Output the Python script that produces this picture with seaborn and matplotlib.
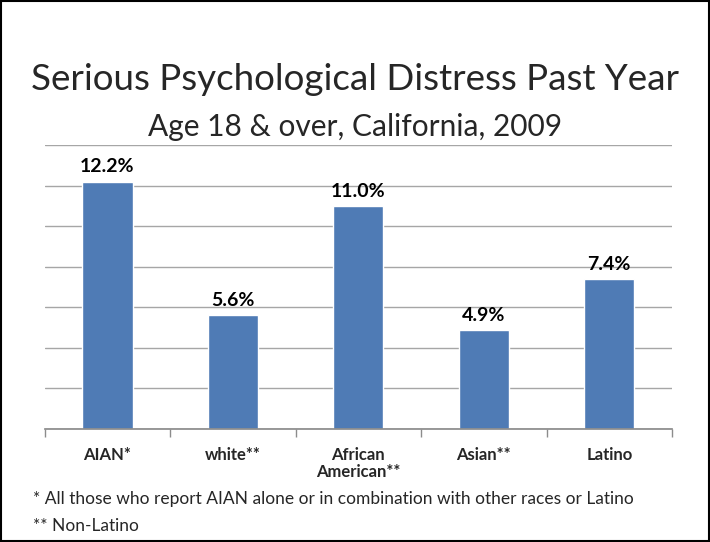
import seaborn as sns
import matplotlib.pyplot as plt
import pandas as pd
from matplotlib.patches import Rectangle

# data
groups = ["AIAN*", "white**", "African\nAmerican**", "Asian**", "Latino"]
rates = [12.2, 5.6, 11.0, 4.9, 7.4]
labels = ["12.2%", "5.6%", "11.0%", "4.9%", "7.4%"]

df = pd.DataFrame({"group": groups, "rate": rates})

sns.set_theme(style="white")
plt.rcParams["font.family"] = ["Lato", "DejaVu Sans"]

fig = plt.figure(figsize=(7.1, 5.42), dpi=100)
ax = fig.add_axes([0.063, 0.2085, 0.8835, 0.524])

sns.barplot(data=df, x="group", y="rate", color="#4F7BB5", width=0.4,
            saturation=1, ax=ax)

ax.set_ylim(0, 14)
ax.set_xlim(-0.5, 4.5)
ax.set_yticks(range(0, 15, 2))
ax.yaxis.grid(True, color="#A6A6A6", linewidth=1)
ax.set_axisbelow(True)
ax.tick_params(axis="y", left=False, labelleft=False)
ax.set_xlabel("")
ax.set_ylabel("")

for s in ["top", "right", "left"]:
    ax.spines[s].set_visible(False)
ax.spines["bottom"].set_color("#8C8C8C")

# tick marks sit between categories
ax.set_xticks([i - 0.5 for i in range(6)], minor=True)
ax.tick_params(axis="x", which="minor", bottom=True, length=6, color="#8C8C8C")
ax.tick_params(axis="x", which="major", bottom=False, pad=7)
ax.set_xticklabels(groups, fontsize=12, fontweight="bold", va="top",
                   linespacing=1.1)

for i, (v, t) in enumerate(zip(rates, labels)):
    ax.text(i, v + 0.3, t, ha="center", va="bottom", fontsize=14,
            fontweight="bold", color="black")

fig.text(0.5, 0.853, "Serious Psychological Distress Past Year",
         ha="center", va="center", fontsize=26.5)
fig.text(0.5, 0.765, "Age 18 & over, California, 2009",
         ha="center", va="center", fontsize=21.5)

fig.text(0.046, 0.079, "* All those who report AIAN alone or in combination with other races or Latino",
         ha="left", va="center", fontsize=12.5)
fig.text(0.046, 0.029, "** Non-Latino", ha="left", va="center", fontsize=12.5)

fig.patches.append(Rectangle((0.002, 0.002), 0.996, 0.996, transform=fig.transFigure,
                             fill=False, edgecolor="black", linewidth=1.5))

plt.savefig("out.png", dpi=100)
